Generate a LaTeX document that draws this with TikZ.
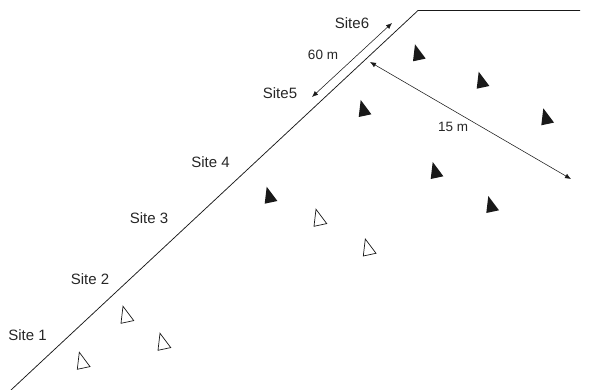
\documentclass[tikz,border=0pt]{standalone}
\usepackage{fontspec}
\setmainfont{Liberation Sans}
\usetikzlibrary{arrows.meta}
\begin{document}
\begin{tikzpicture}[x=1pt,y=-1pt,
  lbl/.style={inner sep=0pt,text=black!85,font=\fontsize{15}{17}\selectfont},
  dim/.style={inner sep=0pt,text=black!85,font=\fontsize{13.5}{15}\selectfont},
  shore/.style={draw=black!90,line width=0.75pt},
  span/.style={draw=black!90,line width=0.55pt,{Latex[length=6pt,width=5pt]}-{Latex[length=6pt,width=5pt]}},
  opentri/.pic={\draw[black!90,line width=0.7pt,line join=miter] (0,0)--(-2,17)--(10.7,14.3)--cycle;},
  filltri/.pic={\fill[black!90] (0,0)--(-2,17)--(10.7,14.3)--cycle;}]
\useasboundingbox (0,0) rectangle (599,390);
\coordinate (s0) at (11,390);
\coordinate (s1) at (418,10.5);
\coordinate (s2) at (580,10.5);
\draw[shore] (s0)--(s1)--(s2);
\node[lbl] (a1) at (27.5,335) {Site 1};
\node[lbl] (a2) at (90,279) {Site 2};
\node[lbl] (a3) at (149,218.5) {Site 3};
\node[lbl] (a4) at (210.5,162) {Site 4};
\node[lbl] (a5) at (280,93) {Site5};
\node[lbl] (a6) at (352,23) {Site6};
\node[dim] (d60) at (323,55) {60 m};
\node[dim] (d15) at (453,126.5) {15 m};
\coordinate (p1) at (392,23);
\coordinate (p2) at (312,97);
\coordinate (q1) at (370,62);
\coordinate (q2) at (571,179);
\draw[span] (p1)--(p2);
\draw[span] (q1)--(q2);
\foreach \x/\y in {79.3/352.3,123/306.3,160/333.3,316/209.3,365.3/239}
  \pic at (\x,\y) {opentri};
\foreach \x/\y in {415/44.3,478.7/71.7,543.3/108.3,360.7/100,432.7/162,266.7/186.7,488.3/196}
  \pic at (\x,\y) {filltri};
\end{tikzpicture}
\end{document}
